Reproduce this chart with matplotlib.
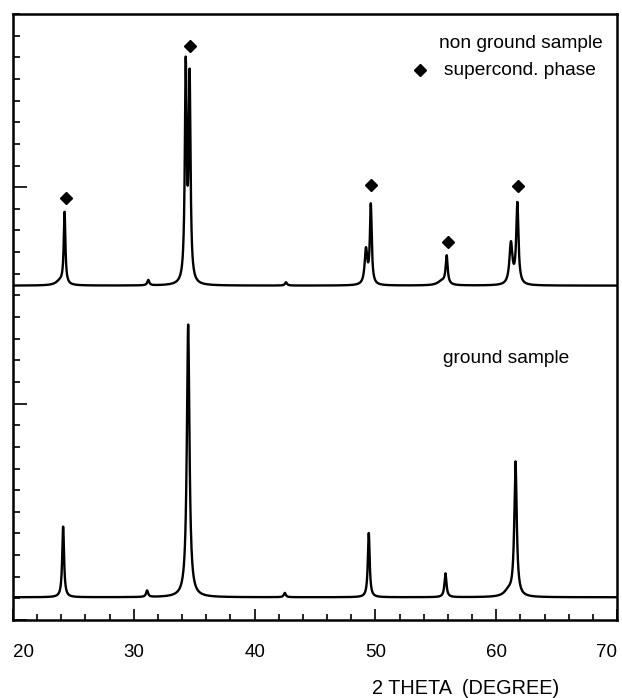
import numpy as np
import matplotlib
matplotlib.use("Agg")
import matplotlib.pyplot as plt
from matplotlib.ticker import MultipleLocator

plt.rcParams['font.family'] = ['Liberation Sans', 'DejaVu Sans']

# --- data ---
# non ground sample: peak centres (deg), heights above baseline, half widths (deg)
top_baseline = 15.45
top_pos = [24.27, 23.9, 31.2, 34.3, 34.62, 42.6, 49.22, 49.62, 55.9, 55.5, 61.22, 61.75]
top_h   = [3.35, 0.2, 0.25, 9.9, 9.3, 0.15, 1.6, 3.65, 1.3, 0.2, 1.9, 3.75]
top_w   = [0.08, 0.4, 0.1, 0.09, 0.09, 0.1, 0.13, 0.09, 0.10, 0.4, 0.15, 0.11]

# ground sample
bot_baseline = 1.05
bot_pos = [24.15, 31.1, 34.5, 42.5, 49.45, 55.8, 61.6, 61.0]
bot_h   = [3.3, 0.3, 12.6, 0.2, 3.0, 1.1, 6.2, 0.25]
bot_w   = [0.09, 0.1, 0.13, 0.1, 0.09, 0.10, 0.12, 0.4]

# superconducting phase markers (deg, level)
marker_x = [24.4, 34.65, 49.6, 56.0, 61.8]
marker_y = [19.5, 26.5, 20.1, 17.45, 20.05]

xticks = [20, 30, 40, 50, 60, 70]
tick_labels = ['20', '30', '40', '50', '60', '70']


def pattern(x, base, pos, h, w):
    y = np.full_like(x, base)
    for c, a, g in zip(pos, h, w):
        y += a / (1.0 + ((x - c) / g) ** 2)
    return y


theta = np.linspace(20, 70, 2501)
y_top = pattern(theta, top_baseline, top_pos, top_h, top_w)
y_bot = pattern(theta, bot_baseline, bot_pos, bot_h, bot_w)

fig = plt.figure(figsize=(6.22, 6.98), dpi=100)
ax = fig.add_axes([13 / 622, 78 / 698, 604 / 622, 606 / 698])

ax.plot(theta, y_top, color='black', lw=1.7)
ax.plot(theta, y_bot, color='black', lw=1.7)
ax.plot(marker_x, marker_y, linestyle='none', marker='D', color='black',
        markersize=6.5)

ax.set_xlim(20, 70)
ax.set_ylim(0, 28)

ax.xaxis.set_major_locator(MultipleLocator(10))
ax.xaxis.set_minor_locator(MultipleLocator(2))
ax.yaxis.set_major_locator(MultipleLocator(10))
ax.yaxis.set_minor_locator(MultipleLocator(1))
ax.tick_params(axis='both', which='both', direction='in', top=False, right=False,
               width=1.2)
ax.tick_params(axis='x', which='major', length=8, pad=17)
ax.tick_params(axis='x', which='minor', length=4)
ax.tick_params(axis='y', which='major', length=10, labelleft=False)
ax.tick_params(axis='y', which='minor', length=5)
ax.set_xticks(xticks)
ax.set_xticklabels(tick_labels, fontsize=13.5)
labs = ax.get_xticklabels()
labs[0].set_horizontalalignment('left')
labs[-1].set_horizontalalignment('right')

for s in ax.spines.values():
    s.set_linewidth(1.8)

fs = 13.8
ax.text(55.3, 26.65, 'non ground sample', fontsize=fs, ha='left', va='center')
ax.plot([53.7], [25.4], marker='D', color='black', markersize=6)
ax.text(55.7, 25.4, 'supercond. phase', fontsize=fs, ha='left', va='center')
ax.text(55.6, 12.1, 'ground sample', fontsize=fs, ha='left', va='center')

fig.text(466 / 622, 1 - 688 / 698, '2 THETA  (DEGREE)', fontsize=14.3,
         ha='center', va='center')

fig.savefig('out.png', dpi=100)
